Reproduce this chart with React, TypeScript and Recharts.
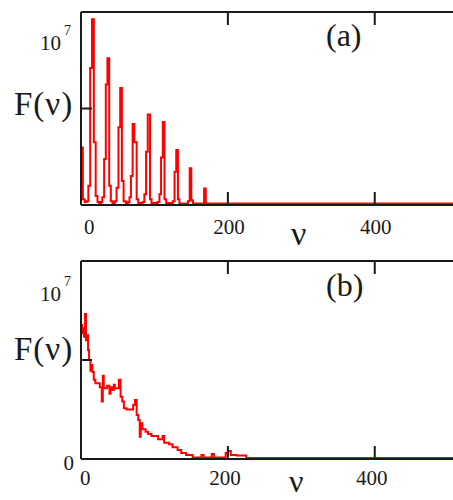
import React from "react";
import { LineChart, Line, XAxis, YAxis } from "recharts";

// panel (a): spectrum F(nu), values in units of 10^6, step trace (start of each step)
const nuA = [
  0, 2.5, 5, 7.5, 10, 12.5, 15, 17.5, 20, 22.5, 25, 27.5,
  29, 31.5, 33.8, 36, 38.4, 40.6, 43, 46,
  48.4, 51, 53.4, 55.7, 58, 61, 64, 66,
  68, 70.3, 72.6, 75.8, 78, 84,
  86.3, 88.6, 90.9, 94, 96, 104,
  106.8, 109, 111.4, 113.7, 116, 125,
  127.4, 129.7, 132, 134, 145.6,
  148, 150.2, 152.5, 167.6, 169.9, 512,
];
const fA = [
  2.98, 0.3, 0.15, 0.2, 1.0, 7.1, 9.62, 3.25, 0.47, 0.15, 0.1, 0.15,
  0.4, 2.38, 6.25, 7.6, 1.0, 0.2, 0.1, 0.2,
  0.9, 4.03, 6.06, 1.25, 0.2, 0.1, 0.15, 0.4,
  1.5, 4.2, 3.25, 0.3, 0.1, 0.15,
  0.56, 2.76, 4.69, 0.3, 0.1, 0.15,
  0.56, 2.46, 4.3, 0.3, 0.1, 0.2,
  1.72, 2.85, 0.3, 0.08, 0.2,
  1.9, 0.25, 0.08, 0.85, 0.08, 0.08,
];

// panel (b): smoother spectrum, same units
const nuB = [
  0, 1.4, 2.7, 4.1, 5.5, 6.8, 8.2, 9.6, 11, 12.8, 14.2, 15.5, 17.4, 19.6,
  25.6, 28.3, 29.7, 31, 35.6, 38.8, 40.2, 42, 44.7, 46.1, 51.6, 53.9, 56.2,
  58.4, 62, 71, 73.5, 75.8, 78, 80, 81.3, 83.6, 88, 91.3, 95.9, 105, 111,
  113.2, 120, 124.7, 131.5, 136.5, 143, 152, 164, 167, 178, 181, 197, 200,
  204, 212, 225, 512,
];
const fB = [
  6.77, 6.35, 6.6, 6.18, 7.32, 6.0, 6.25, 5.5, 5.0, 4.46, 4.75, 4.4, 4.0, 3.82,
  3.62, 2.9, 4.2, 3.57, 3.7, 3.3, 3.62, 3.48, 3.75, 3.57, 4.0, 3.15, 2.9,
  2.56, 2.5, 2.73, 2.98, 2.22, 1.97, 1.13, 1.8, 1.5, 1.38, 1.26, 1.16, 1.0, 1.16,
  0.82, 0.75, 0.59, 0.45, 0.3, 0.2, 0.08, 0.2, 0.08, 0.25, 0.08, 0.3, 0.4,
  0.2, 0.18, 0.05, 0.05,
];

const xTicks = [0, 200, 400];
const yTicks = [0, 5, 10];

const FONT = "'Liberation Serif', 'Times New Roman', serif";
const INK = "#1a1a1a";
const RED = "#ff0000";

const rowsA = nuA.map((nu, i) => ({ nu, f: fA[i] }));
const rowsB = nuB.map((nu, i) => ({ nu, f: fB[i] }));

// bottom tick labels, "0" sits right of the axis like in Mathcad
const XTick = (props: any) => {
  const { x, y, payload, base, shift } = props;
  const v = payload.value;
  return (
    <text
      x={v === 0 ? x + 2 + shift : x + shift}
      y={y + base}
      textAnchor={v === 0 ? "start" : "middle"}
      fontFamily={FONT}
      fontSize={21}
      fill={INK}
    >
      {v}
    </text>
  );
};

// left labels: 10^7 at top, optional 0 at bottom
const YTick = (props: any) => {
  const { x, y, payload, showZero, top } = props;
  const v = payload.value;
  if (v === 10) {
    return (
      <g>
        <text x={x - 20} y={y + top} textAnchor="end" fontFamily={FONT} fontSize={21} fill={INK}>
          10
        </text>
        <text x={x - 17} y={y + top - 15} fontFamily={FONT} fontSize={14} fill={INK}>
          7
        </text>
      </g>
    );
  }
  if (v === 0 && showZero) {
    return (
      <text x={x - 7} y={y + 11} textAnchor="end" fontFamily={FONT} fontSize={21} fill={INK}>
        0
      </text>
    );
  }
  return <g />;
};

// recharts skips an axis whose box is 0 wide/high, so axes get 1px and margins make up the rest
function Panel({ rows, top, bottom, showZero, labelBase, labelShift, yTop }: any) {
  return (
    <LineChart
      width={467}
      height={250}
      data={rows}
      margin={{ top, right: 10, bottom, left: 80 }}
    >
      <XAxis
        type="number"
        dataKey="nu"
        domain={[0, 512]}
        ticks={xTicks}
        interval={0}
        height={1}
        allowDataOverflow
        axisLine={{ stroke: INK, strokeWidth: 2 }}
        tickLine={{ stroke: INK, strokeWidth: 2 }}
        tickSize={-13}
        tickMargin={13}
        tick={<XTick base={labelBase} shift={labelShift} />}
      />
      <XAxis
        xAxisId="top"
        orientation="top"
        type="number"
        dataKey="nu"
        domain={[0, 512]}
        ticks={xTicks}
        interval={0}
        height={1}
        allowDataOverflow
        axisLine={{ stroke: INK, strokeWidth: 2 }}
        tickLine={{ stroke: INK, strokeWidth: 2 }}
        tickSize={-13}
        tick={() => <g />}
      />
      <YAxis
        type="number"
        domain={[0, 10]}
        ticks={yTicks}
        interval={0}
        width={1}
        allowDataOverflow
        axisLine={{ stroke: INK, strokeWidth: 2 }}
        tickLine={{ stroke: INK, strokeWidth: 2 }}
        tickSize={-11}
        tickMargin={11}
        tick={<YTick showZero={showZero} top={yTop} />}
      />
      <Line
        type="stepAfter"
        dataKey="f"
        stroke={RED}
        strokeWidth={2}
        dot={false}
        isAnimationActive={false}
      />
    </LineChart>
  );
}

export default function App() {
  const txt = { fontFamily: FONT, fill: INK };
  return (
    <div
      style={{
        position: "absolute",
        left: 0,
        top: 0,
        width: 453,
        height: 500,
        overflow: "hidden",
        background: "#fff",
      }}
    >
      <div style={{ position: "absolute", left: 0, top: 0 }}>
        <Panel rows={rowsA} top={11} bottom={44} showZero={false} labelBase={29} labelShift={1} yTop={38} />
      </div>
      <div style={{ position: "absolute", left: 0, top: 250 }}>
        <Panel rows={rowsB} top={10} bottom={40} showZero={true} labelBase={26} labelShift={-3} yTop={40} />
      </div>
      <svg
        width={453}
        height={500}
        style={{ position: "absolute", left: 0, top: 0, pointerEvents: "none" }}
      >
        <text x={14} y={115} fontSize={33} letterSpacing={1} {...txt}>F(ν)</text>
        <text x={326} y={46} fontSize={32} {...txt}>(a)</text>
        <text x={291} y={245} fontSize={34} {...txt}>ν</text>
        <text x={14} y={360} fontSize={33} letterSpacing={1} {...txt}>F(ν)</text>
        <text x={326} y={296} fontSize={32} {...txt}>(b)</text>
        <text x={289} y={492} fontSize={32} {...txt}>ν</text>
      </svg>
    </div>
  );
}
